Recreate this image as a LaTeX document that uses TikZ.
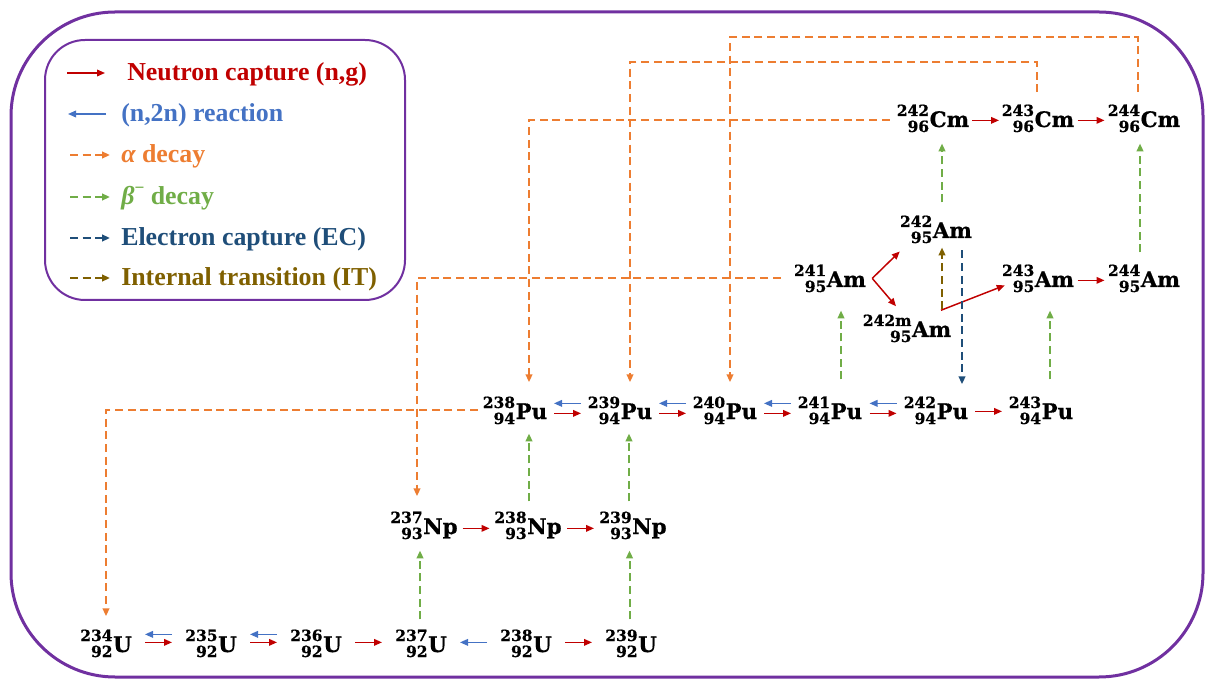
\documentclass[tikz,border=0pt]{standalone}
\usepackage{fontspec}
\setmainfont{Liberation Serif}
\newfontfamily\nucf{DejaVu Serif}[BoldFeatures={FakeBold=0.7}]
\usetikzlibrary{arrows.meta,calc}
\definecolor{cred}{HTML}{C00000}
\definecolor{cblue}{HTML}{4472C4}
\definecolor{corange}{HTML}{ED7D31}
\definecolor{cgreen}{HTML}{70AD47}
\definecolor{cec}{HTML}{1F4E79}
\definecolor{cit}{HTML}{7F6000}
\definecolor{cpurple}{HTML}{7030A0}
\newdimen\nucw
\newcommand\nuc[3]{{\nucf\bfseries
  \setbox0=\hbox{\fontsize{11.6}{12}\selectfont #1}%
  \setbox2=\hbox{\fontsize{11.6}{12}\selectfont #2}%
  \ifdim\wd0>\wd2 \nucw=\wd0 \else \nucw=\wd2 \fi
  \raise8.25pt\hbox to\nucw{\hss\box0}%
  \kern-\nucw
  \lower3.75pt\hbox to\nucw{\hss\box2}%
  \kern0.4pt
  \fontsize{16}{18}\selectfont #3}}
\begin{document}
\begin{tikzpicture}[x=0.75pt,y=-0.75pt,
  nucl/.style={inner sep=0pt, anchor=base},
  tip/.style={-{Triangle[length=6pt,width=5pt]}},
  ncap/.style={draw=cred, line width=1.1pt, tip},
  nn/.style={draw=cblue, line width=1.1pt, tip},
  dsh/.style={line width=1.5pt, dash pattern=on 6pt off 3.5pt, tip},
  alpha/.style={dsh, draw=corange},
  beta/.style={dsh, draw=cgreen},
  ec/.style={dsh, draw=cec},
  it/.style={dsh, draw=cit},
  legtext/.style={anchor=base west, inner sep=0pt, font=\fontsize{19.4}{22}\selectfont\bfseries}]
\path[use as bounding box] (0,0) rectangle (1205,680);
% frames
\draw[cpurple, line width=2.25pt, rounded corners=78pt] (11,12) rectangle (1203,677);
\draw[cpurple, line width=1.5pt, rounded corners=30pt] (45,40) rectangle (405,300);
% legend
\coordinate (la1) at (67,73);  \coordinate (lb1) at (105,73);
\coordinate (la2) at (106,114); \coordinate (lb2) at (68,114);
\coordinate (la3) at (70,155); \coordinate (lb3) at (110,155);
\coordinate (la4) at (70,197); \coordinate (lb4) at (110,197);
\coordinate (la5) at (70,238); \coordinate (lb5) at (110,238);
\coordinate (la6) at (70,278); \coordinate (lb6) at (110,278);
\draw[ncap] (la1) -- (lb1);
\draw[nn] (la2) -- (lb2);
\draw[alpha] (la3) -- (lb3);
\draw[beta] (la4) -- (lb4);
\draw[ec] (la5) -- (lb5);
\draw[it] (la6) -- (lb6);
\node[legtext, text=cred] (t1) at (127,81) {Neutron capture (n,g)};
\node[legtext, text=cblue] (t2) at (121,122) {(n,2n) reaction};
\node[legtext, text=corange] (t3) at (121,163) {{\itshape α} decay};
\node[legtext, text=cgreen] (t4) at (121,205) {{\itshape β}\raisebox{0.45em}{\fontsize{13}{13}\selectfont −} decay};
\node[legtext, text=cec] (t5) at (121,246) {Electron capture (EC)};
\node[legtext, text=cit] (t6) at (121,286) {Internal transition (IT)};
% nuclides
\node[nucl] (u234) at (106,652) {\nuc{234}{92}{U}};
\node[nucl] (u235) at (211,652) {\nuc{235}{92}{U}};
\node[nucl] (u236) at (316,652) {\nuc{236}{92}{U}};
\node[nucl] (u237) at (421,652) {\nuc{237}{92}{U}};
\node[nucl] (u238) at (526,652) {\nuc{238}{92}{U}};
\node[nucl] (u239) at (631,652) {\nuc{239}{92}{U}};
\node[nucl] (np237) at (424,534) {\nuc{237}{93}{Np}};
\node[nucl] (np238) at (528,534) {\nuc{238}{93}{Np}};
\node[nucl] (np239) at (633,534) {\nuc{239}{93}{Np}};
\node[nucl] (pu238) at (515,419) {\nuc{238}{94}{Pu}};
\node[nucl] (pu239) at (620,419) {\nuc{239}{94}{Pu}};
\node[nucl] (pu240) at (725,419) {\nuc{240}{94}{Pu}};
\node[nucl] (pu241) at (830,419) {\nuc{241}{94}{Pu}};
\node[nucl] (pu242) at (936,419) {\nuc{242}{94}{Pu}};
\node[nucl] (pu243) at (1041,419) {\nuc{243}{94}{Pu}};
\node[nucl] (am241) at (830,287) {\nuc{241}{95}{Am}};
\node[nucl] (am242) at (936,238) {\nuc{242}{95}{Am}};
\node[nucl] (am242m) at (907,337) {\nuc{242m}{95}{Am}};
\node[nucl] (am243) at (1038,287) {\nuc{243}{95}{Am}};
\node[nucl] (am244) at (1144,287) {\nuc{244}{95}{Am}};
\node[nucl] (cm242) at (933,127) {\nuc{242}{96}{Cm}};
\node[nucl] (cm243) at (1038,127) {\nuc{243}{96}{Cm}};
\node[nucl] (cm244) at (1144,127) {\nuc{244}{96}{Cm}};
% U row
\draw[nn] ($(u234.east)!.5!(u235.west)+(13.5,-9)$) -- ++(-27,0);
\draw[ncap] ($(u234.east)!.5!(u235.west)+(-13.5,-1)$) -- ++(27,0);
\draw[nn] ($(u235.east)!.5!(u236.west)+(13.5,-9)$) -- ++(-27,0);
\draw[ncap] ($(u235.east)!.5!(u236.west)+(-13.5,-1)$) -- ++(27,0);
\draw[ncap] ($(u236.east)!.5!(u237.west)+(-13.5,-1)$) -- ++(27,0);
\draw[nn] ($(u237.east)!.5!(u238.west)+(13.5,-1)$) -- ++(-27,0);
\draw[ncap] ($(u238.east)!.5!(u239.west)+(-13.5,-1)$) -- ++(27,0);
% Np row
\draw[ncap] ($(np237.east)!.5!(np238.west)+(-13.5,3)$) -- ++(27,0);
\draw[ncap] ($(np238.east)!.5!(np239.west)+(-13.5,3)$) -- ++(27,0);
% Pu row
\draw[nn] ($(pu238.east)!.5!(pu239.west)+(13.5,-7)$) -- ++(-27,0);
\draw[ncap] ($(pu238.east)!.5!(pu239.west)+(-13.5,3)$) -- ++(27,0);
\draw[nn] ($(pu239.east)!.5!(pu240.west)+(13.5,-7)$) -- ++(-27,0);
\draw[ncap] ($(pu239.east)!.5!(pu240.west)+(-13.5,3)$) -- ++(27,0);
\draw[nn] ($(pu240.east)!.5!(pu241.west)+(13.5,-7)$) -- ++(-27,0);
\draw[ncap] ($(pu240.east)!.5!(pu241.west)+(-13.5,3)$) -- ++(27,0);
\draw[nn] ($(pu241.east)!.5!(pu242.west)+(13.5,-7)$) -- ++(-27,0);
\draw[ncap] ($(pu241.east)!.5!(pu242.west)+(-13.5,3)$) -- ++(27,0);
\draw[ncap] ($(pu242.east)!.5!(pu243.west)+(-13.5,1)$) -- ++(27,0);
% Am / Cm rows
\draw[ncap] ($(am243.east)!.5!(am244.west)+(-13.5,2)$) -- ++(27,0);
\draw[ncap] ($(cm242.east)!.5!(cm243.west)+(-13.5,2)$) -- ++(27,0);
\draw[ncap] ($(cm243.east)!.5!(cm244.west)+(-13.5,2)$) -- ++(27,0);
\draw[ncap] ($(am241.east)+(6,0)$) coordinate (amfork) -- ($(am242.south west)+(0,8)$);
\draw[ncap] (amfork) -- ($(am242m.north)+(-11,-8)$);
\draw[ncap] ($(am242m.north)+(34,-4)$) -- ($(am243.west)+(3,7)$);
% beta decays
\draw[beta] ($(u237.north)+(-1,-10)$) -- ($(u237.north |- np237.south)+(-1,11)$);
\draw[beta] ($(u239.north)+(-1.5,-10)$) -- ($(u239.north |- np239.south)+(-1.5,11)$);
\draw[beta] ($(np238.north)+(1,-10)$) -- ($(np238.north |- pu238.south)+(1,9)$);
\draw[beta] ($(np239.north)+(-4,-10)$) -- ($(np239.north |- pu239.south)+(-4,9)$);
\draw[beta] ($(pu241.north)+(11,-17)$) -- ($(pu241.north |- am241.south)+(11,18)$);
\draw[beta] ($(pu243.north)+(9,-17)$) -- ($(pu243.north |- am243.south)+(9,18)$);
\draw[beta] ($(am242.north)+(6,-13)$) -- ($(am242.north |- cm242.south)+(6,11)$);
\draw[beta] ($(am244.north)+(-4,-12)$) -- ($(am244.north |- cm244.south)+(-4,11)$);
% EC and IT
\draw[ec] ($(am242.south)+(26,7)$) -- ($(am242.south |- pu242.north)+(26,-12)$);
\draw[it] ($(am242m.north)+(35,-5)$) -- ($(am242m.north |- am242.south)+(35,4)$);
% alpha decays
\draw[alpha] ($(pu238.west)+(-5,0)$) -| ($(u234.north)+(0,-13)$);
\draw[alpha] ($(am241.west)+(-13,0)$) -| ($(np237.north)+(-7,-15)$);
\draw[alpha] ($(cm242.west)+(-7,2)$) -| ($(pu238.north)+(14,-14)$);
\draw[alpha] ($(cm243.north)+(-1,-12)$) -- ++(0,-30) -| ($(pu239.north)+(10,-14)$);
\draw[alpha] ($(cm244.north)+(-6,-12)$) -- ++(0,-55) -| ($(pu240.north)+(5,-14)$);
\end{tikzpicture}
\end{document}
